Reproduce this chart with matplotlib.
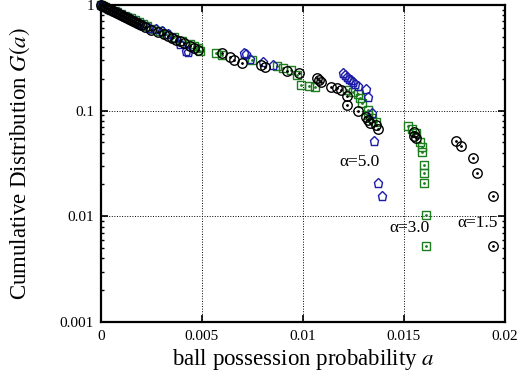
import matplotlib
matplotlib.use('Agg')
import matplotlib.pyplot as plt
from matplotlib.ticker import FixedLocator, LogLocator, NullFormatter

plt.rcParams['font.family'] = ['Liberation Serif', 'DejaVu Serif']
plt.rcParams['mathtext.fontset'] = 'stix'

# alpha = 1.5 (black circles)
x_15 = [0.0000, 0.0001, 0.0002, 0.0003, 0.0004, 0.0005, 0.0006, 0.0007, 0.0008,
        0.0009, 0.0010, 0.0011, 0.0012, 0.0013, 0.0014, 0.0015, 0.0016, 0.0017,
        0.0018, 0.0019, 0.0020, 0.0022, 0.0025, 0.0028, 0.0031, 0.0033, 0.0035,
        0.0037, 0.0039, 0.0041, 0.0044, 0.0046, 0.0048, 0.0060, 0.0064, 0.0066,
        0.0070, 0.0079, 0.0081, 0.0092, 0.0098, 0.0107, 0.0108, 0.0109, 0.0114,
        0.0117, 0.0119, 0.0122, 0.0122, 0.0127, 0.0131, 0.0132, 0.0133, 0.0136,
        0.0137, 0.0155, 0.0155, 0.0156, 0.0176, 0.0178, 0.0184, 0.0186, 0.0194,
        0.0194]
y_15 = [1.0, 0.98, 0.96, 0.94, 0.92, 0.90, 0.88, 0.86, 0.84, 0.82, 0.80, 0.785,
        0.77, 0.755, 0.74, 0.725, 0.71, 0.695, 0.68, 0.665, 0.65, 0.62, 0.58,
        0.555, 0.53, 0.51, 0.49, 0.47, 0.455, 0.44, 0.41, 0.395, 0.375, 0.35,
        0.32, 0.30, 0.28, 0.27, 0.26, 0.235, 0.225, 0.205, 0.195, 0.185, 0.168,
        0.164, 0.157, 0.138, 0.113, 0.100, 0.087, 0.082, 0.077, 0.073, 0.067,
        0.063, 0.058, 0.055, 0.051, 0.0464, 0.0357, 0.0257, 0.0156, 0.0052]

# alpha = 3.0 (green squares)
x_30 = [0.0000, 0.0001, 0.0002, 0.0004, 0.0005, 0.0007, 0.0008, 0.0010, 0.0012,
        0.0013, 0.0015, 0.0017, 0.0019, 0.0021, 0.0023, 0.0026, 0.0029, 0.0032,
        0.0036, 0.0040, 0.0044, 0.0046, 0.0048, 0.0049, 0.0057, 0.0060, 0.0075,
        0.0087, 0.0090, 0.0094, 0.0097, 0.0099, 0.0103, 0.0106, 0.0122, 0.0125,
        0.0127, 0.0128, 0.0129, 0.0132, 0.0132, 0.0134, 0.0136, 0.0152, 0.0154,
        0.0156, 0.0158, 0.0159, 0.0159, 0.0160, 0.0160, 0.0160, 0.0161, 0.0161]
y_30 = [1.0, 0.97, 0.95, 0.92, 0.90, 0.87, 0.85, 0.82, 0.79, 0.77, 0.745, 0.72,
        0.69, 0.66, 0.63, 0.59, 0.56, 0.53, 0.50, 0.46, 0.43, 0.41, 0.39, 0.37,
        0.35, 0.335, 0.30, 0.265, 0.254, 0.243, 0.218, 0.175, 0.170, 0.166,
        0.158, 0.150, 0.145, 0.132, 0.118, 0.101, 0.091, 0.085, 0.078, 0.0717,
        0.067, 0.0616, 0.0506, 0.0452, 0.0406, 0.0306, 0.0258, 0.0207, 0.0103,
        0.0052]

# alpha = 5.0 (blue pentagons)
x_50 = [0.0000, 0.0001, 0.0003, 0.0004, 0.0006, 0.0008, 0.0009, 0.0011, 0.0013,
        0.0015, 0.0017, 0.0019, 0.0021, 0.0024, 0.0027, 0.0030, 0.0033, 0.0036,
        0.0039, 0.0042, 0.0043, 0.0071, 0.0072, 0.0074, 0.0080, 0.0085, 0.0120,
        0.0121, 0.0122, 0.0123, 0.0124, 0.0125, 0.0126, 0.0127, 0.0131, 0.0132,
        0.0134, 0.0135, 0.0137, 0.0139]
y_50 = [1.0, 0.97, 0.93, 0.91, 0.88, 0.85, 0.83, 0.80, 0.77, 0.74, 0.71, 0.68,
        0.65, 0.61, 0.585, 0.56, 0.53, 0.49, 0.43, 0.37, 0.355, 0.35, 0.34, 0.31,
        0.29, 0.27, 0.227, 0.215, 0.208, 0.200, 0.195, 0.188, 0.18, 0.171, 0.16,
        0.135, 0.095, 0.0516, 0.0207, 0.0156]

green = '#1e7d1e'
blue = '#1c1ca8'

fig = plt.figure(figsize=(5.24, 3.83), dpi=100)
ax = fig.add_axes([0.1927, 0.1593, 0.771, 0.828])

ax.plot(x_30, y_30, 's', ms=6.3, mfc='none', mec=green, mew=1.0, clip_on=False)
ax.plot(x_30, y_30, '.', ms=2, color=green, clip_on=False)
ax.plot(x_50, y_50, 'p', ms=6.5, mfc='none', mec=blue, mew=1.0, clip_on=False)
ax.plot(x_15, y_15, 'o', ms=6.8, mfc='none', mec='black', mew=1.0, clip_on=False)
ax.plot(x_15, y_15, '.', ms=2, color='black', clip_on=False)

ax.set_yscale('log')
ax.set_xlim(0, 0.02)
ax.set_ylim(0.001, 1)

ax.xaxis.set_major_locator(FixedLocator([0, 0.005, 0.01, 0.015, 0.02]))
ax.set_xticklabels(['0', '0.005', '0.01', '0.015', '0.02'])
ax.yaxis.set_major_locator(FixedLocator([0.001, 0.01, 0.1, 1]))
ax.yaxis.set_minor_locator(LogLocator(base=10, subs=range(2, 10)))
ax.yaxis.set_minor_formatter(NullFormatter())
ax.set_yticklabels(['0.001', '0.01', '0.1', '1'])

ax.tick_params(which='both', direction='in', top=True, right=True, labelsize=11)
ax.tick_params(which='major', length=5, width=1.2)
ax.tick_params(which='minor', length=2.5, width=1.0)
ax.tick_params(axis='x', pad=6)
ax.tick_params(axis='y', pad=5)

for s in ax.spines.values():
    s.set_linewidth(1.6)

ax.grid(True, which='major', linestyle=':', color='black', linewidth=0.7)

ax.text(0.01178, 0.0327, 'α=5.0', fontsize=12.5, ha='left', va='center')
ax.text(0.0143, 0.0078, 'α=3.0', fontsize=12.5, ha='left', va='center')
ax.text(0.01762, 0.0087, 'α=1.5', fontsize=12.5, ha='left', va='center')

ax.set_xlabel(r'ball possession probability $a$', fontsize=16.5)
ax.set_ylabel(r'Cumulative Distribution $G(a)$', fontsize=16.5)
ax.xaxis.set_label_coords(0.5, -0.08)
ax.yaxis.set_label_coords(-0.17, 0.5)

fig.savefig('out.png', dpi=100)
